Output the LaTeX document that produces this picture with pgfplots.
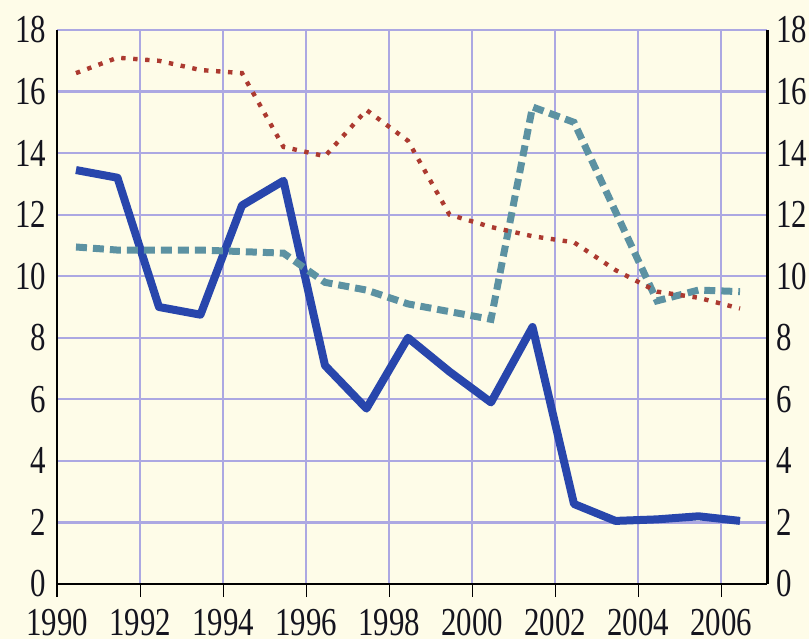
\documentclass[border=0pt]{standalone}
\usepackage{fontspec}
\setmainfont{Liberation Serif}
\newfontfamily\tickfont[FakeStretch=0.78]{Liberation Serif}
\usepackage{pgfplots}
\pgfplotsset{compat=1.18}
\definecolor{bgc}{RGB}{254,252,232}
\definecolor{gridc}{RGB}{172,168,226}
\definecolor{blueL}{RGB}{40,70,172}
\definecolor{tealL}{RGB}{92,146,162}
\definecolor{redL}{RGB}{172,58,48}
\definecolor{txt}{RGB}{20,20,30}
\pgfplotsset{
  common/.style={
    at={(0,0)}, anchor=south west, scale only axis,
    width=354.85pt, height=277pt,
    xmin=1990, xmax=2007.1, ymin=0, ymax=18,
    ytick={0,2,...,18},
    yticklabels={0,2,4,6,8,10,12,14,16,18},
    tick label style={font=\tickfont\fontsize{19.8}{21}\selectfont, text=txt},
    ytick style={draw=none},
  }
}
\begin{document}
\begin{tikzpicture}
\path[use as bounding box, fill=bgc] (-28.65pt,-27.5pt) rectangle (375.85pt,292pt);
\begin{axis}[common,
  axis x line*=bottom, axis y line*=left,
  x axis line style={black, line width=1pt, -},
  y axis line style={black, line width=1pt, -},
  xtick={1990,1992,...,2006},
  xticklabels={1990,1992,1994,1996,1998,2000,2002,2004,2006},
  xticklabel style={yshift=-2.5pt},
  xtick align=outside, major tick length=6.5pt,
  xtick style={black, line width=0.8pt},
  grid=major, grid style={gridc, line width=1.1pt},
  yticklabel style={xshift=-2pt},
]
\addplot[blueL, line width=4pt, line join=round] coordinates {
(1990.45,13.45) (1991.45,13.2) (1992.45,9.0) (1993.45,8.75) (1994.45,12.3)
(1995.45,13.1) (1996.45,7.1) (1997.45,5.7) (1998.45,8.0) (1999.45,6.9)
(2000.45,5.9) (2001.45,8.35) (2002.45,2.6) (2003.45,2.05) (2004.45,2.1)
(2005.45,2.2) (2006.45,2.05)};
\addplot[tealL, line width=3.5pt, dash pattern=on 5.5pt off 3pt] coordinates {
(1990.45,10.95) (1991.45,10.85) (1992.45,10.85) (1993.45,10.85) (1994.45,10.8)
(1995.45,10.75) (1996.45,9.8) (1997.45,9.55) (1998.45,9.1) (1999.45,8.85)
(2000.45,8.6) (2001.45,15.5) (2002.45,15.0) (2003.45,12.1) (2004.45,9.2)
(2005.45,9.55) (2006.45,9.5)};
\addplot[redL, line width=2.2pt, dash pattern=on 2.2pt off 3.8pt] coordinates {
(1990.45,16.6) (1991.45,17.1) (1992.45,17.0) (1993.45,16.7) (1994.45,16.6)
(1995.45,14.2) (1996.45,13.9) (1997.45,15.4) (1998.45,14.4) (1999.45,12.0)
(2000.45,11.6) (2001.45,11.3) (2002.45,11.1) (2003.45,10.2) (2004.45,9.5)
(2005.45,9.3) (2006.45,8.95)};
\end{axis}
\begin{axis}[common,
  axis x line=none, axis y line*=right,
  y axis line style={black, line width=1.5pt, -},
  yticklabel style={xshift=1pt},
]
\end{axis}
\end{tikzpicture}
\end{document}
